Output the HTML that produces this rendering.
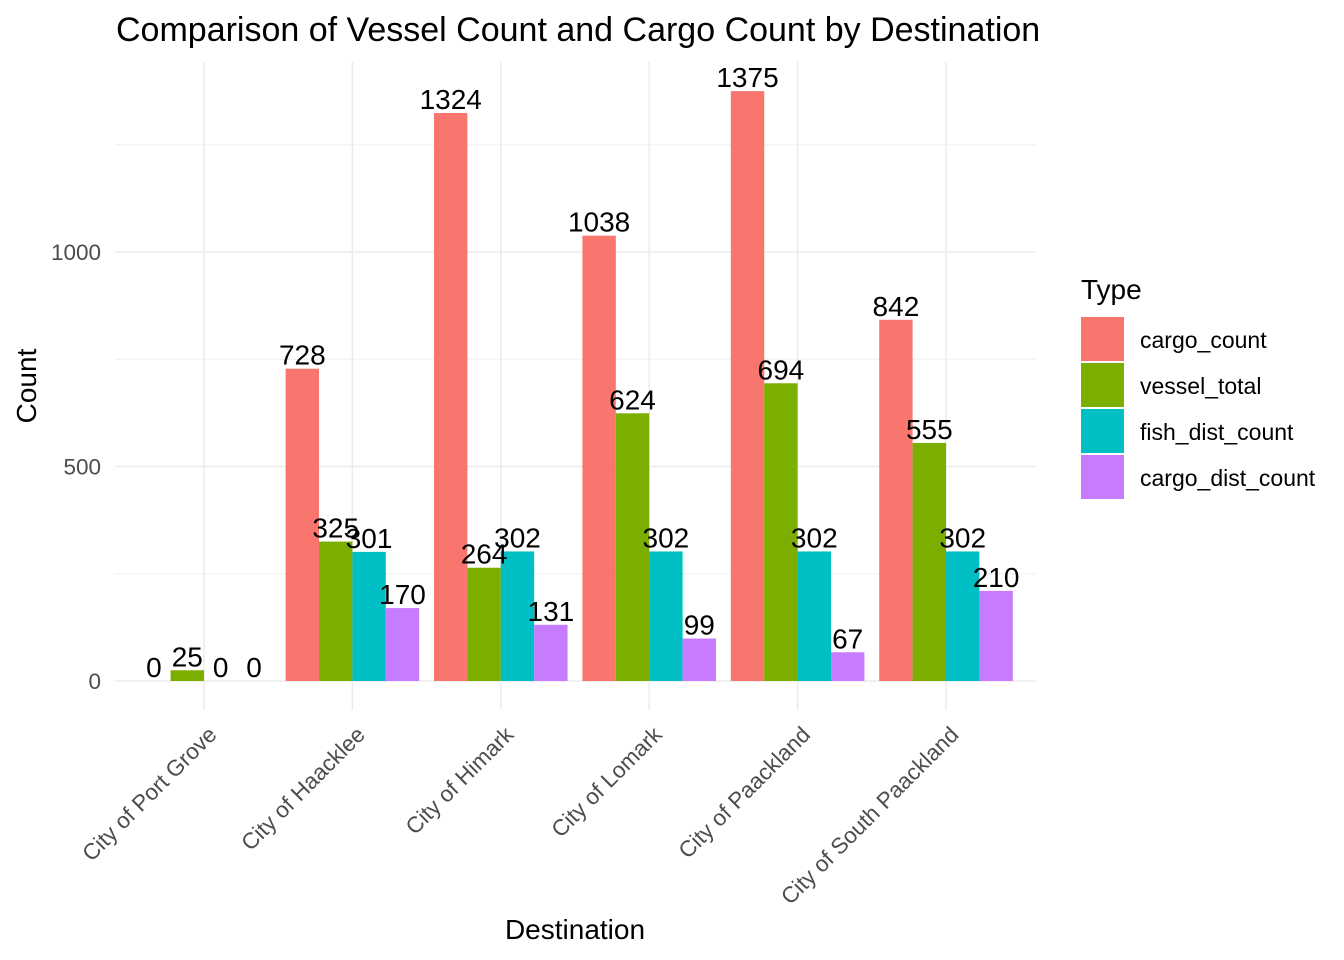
<!DOCTYPE html>
<html><head><meta charset="utf-8"><style>
html,body{margin:0;padding:0;background:#fff;}
svg{display:block;font-family:"Liberation Sans",Arial,sans-serif;}
</style></head><body>
<svg id="chart" width="1344" height="960" viewBox="0 0 1344 960" xmlns="http://www.w3.org/2000/svg">
<text x="116" y="41" font-size="34" fill="#000">Comparison of Vessel Count and Cargo Count by Destination</text>
<g id="grid"></g>
<g id="bars"></g>
<g id="labels"></g>
<g id="axes"></g>
<text transform="translate(36,386) rotate(-90)" text-anchor="middle" font-size="28" fill="#000">Count</text>
<text x="575" y="939" text-anchor="middle" font-size="28" fill="#000">Destination</text>
<g id="legend">
<text x="1081" y="299" font-size="28" fill="#000">Type</text>
</g>
</svg>
<script>
const categories = ["City of Port Grove","City of Haacklee","City of Himark","City of Lomark","City of Paackland","City of South Paackland"];
const seriesNames = ["cargo_count","vessel_total","fish_dist_count","cargo_dist_count"];
const cargoCount = [0,728,1324,1038,1375,842];
const vesselTotal = [25,325,264,624,694,555];
const fishDistCount = [0,301,302,302,302,302];
const cargoDistCount = [0,170,131,99,67,210];
const yTicks = [0,500,1000];
const colors = ["#F8766D","#7CAE00","#00BFC4","#C77CFF"];
const series = [cargoCount, vesselTotal, fishDistCount, cargoDistCount];

const NS = "http://www.w3.org/2000/svg";
const panel = {left:115, right:1036, top:62, bottom:710};
const y0 = 681, pxPerUnit = (681-252)/1000;
const yScale = v => y0 - v*pxPerUnit;
const step = 148.4, firstX = 204;
const xScale = i => firstX + step*i;
const groupW = step*0.9, barW = groupW/series.length;

function mk(tag, attrs, parent){const e=document.createElementNS(NS,tag);for(const k in attrs)e.setAttribute(k,attrs[k]);parent.appendChild(e);return e;}
const grid=document.getElementById('grid'), bars=document.getElementById('bars'), labels=document.getElementById('labels'), axes=document.getElementById('axes'), legend=document.getElementById('legend');

for(let k=0;k<yTicks.length;k++){
  const mv = yTicks[k]+250;
  const ln = mk('line',{x1:panel.left,x2:panel.right,y1:yScale(mv),y2:yScale(mv),stroke:'#f0f0f0','stroke-width':1},grid);
  
  
}
yTicks.forEach(t=>{
  const ln = mk('line',{x1:panel.left,x2:panel.right,y1:yScale(t),y2:yScale(t),stroke:'#ebebeb','stroke-width':1.5},grid);
  
  
  const tx = mk('text',{x:101,y:yScale(t)+8,'text-anchor':'end','font-size':22.5,fill:'#4d4d4d'},axes);
  tx.textContent=t;
  
  
});
categories.forEach((c,i)=>{
  const ln = mk('line',{x1:xScale(i),x2:xScale(i),y1:panel.top,y2:panel.bottom,stroke:'#ebebeb','stroke-width':1.5},grid);
  
  
  const tx = mk('text',{x:0,y:0,'text-anchor':'end','font-size':22.5,fill:'#4d4d4d',transform:`translate(${xScale(i)+14},${736}) rotate(-45)`},axes);
  tx.textContent=c;
  
  
  series.forEach((s,j)=>{
    const x = xScale(i)-groupW/2 + j*barW;
    const v = s[i];
    const r = mk('rect',{x:x,y:yScale(v),width:barW,height:y0-yScale(v),fill:colors[j]},bars);
    
    
    const t = mk('text',{x:x+barW/2,y:yScale(v)-4,'text-anchor':'middle','font-size':28,fill:'#000'},labels);
    t.textContent=v;
    
    
  });
});
seriesNames.forEach((n,j)=>{
  const r = mk('rect',{x:1081,y:317+j*46,width:43,height:44,fill:colors[j]},legend);
  
  
  const t = mk('text',{x:1140,y:348+j*46,'font-size':23,fill:'#000'},legend);
  t.textContent=n;
  
  
});
</script>
</body></html>
